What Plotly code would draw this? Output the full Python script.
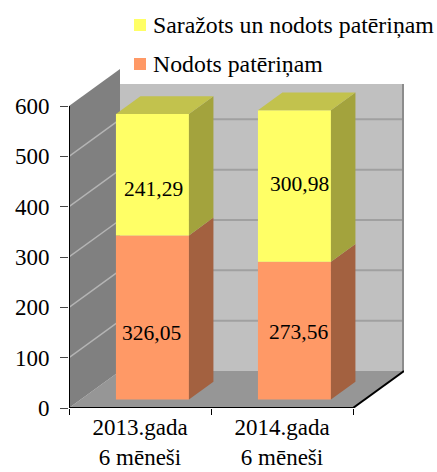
import plotly.graph_objects as go

categories = ["2013.gada<br>6 mēneši", "2014.gada<br>6 mēneši"]
delivered = [326.05, 273.56]
produced = [241.29, 300.98]
series_names = ["Nodots patēriņam", "Saražots un nodots patēriņam"]
y_ticks = [0, 100, 200, 300, 400, 500, 600]

W, H = 437, 472
FONT = "'Liberation Serif', 'Times New Roman', Times, serif"
# pixel frame of the plot area
L, R, T, B = 69, 404, 67, 408
PX_CAT = 142.0
PX_VAL = 302.0 / 600
DX, DY = 51 / PX_CAT, 37 / PX_VAL          # total depth in axis units
NCAT = len(categories)
YTOP = 600
BAR_W = 73 / PX_CAT
FRONT = 0.23     # bar front position along depth
BACK = 0.71      # bar back position along depth

def dep(x, y, d):
    return x + DX * d, y + DY * d

def poly(pts, color, layer="below", line=None):
    path = "M" + "L".join(f"{x},{y}" for x, y in pts) + "Z"
    return dict(type="path", path=path, fillcolor=color, layer=layer, xref="x", yref="y",
                line=line or dict(width=0))

shapes = []
wall_top = (B - 84) / PX_VAL - DY      # back wall stops below the legend band
# back wall, floor, side wall
shapes.append(poly([dep(0, 0, 1), dep(NCAT, 0, 1), dep(NCAT, wall_top, 1), dep(0, wall_top, 1)], "#C0C0C0"))
shapes.append(poly([(0, 0), (NCAT, 0), dep(NCAT, 0, 1), dep(0, 0, 1)], "#969696"))
shapes.append(poly([(0, 0), dep(0, 0, 1), dep(0, YTOP, 1), (0, YTOP)], "#808080"))
for v in y_ticks[1:-1]:
    x0, y0 = dep(0, v, 1)
    x1, y1 = dep(NCAT, v, 1)
    shapes.append(dict(type="line", x0=x0, y0=y0, x1=x1, y1=y1, xref="x", yref="y", layer="below",
                       line=dict(color="#A0A0A0", width=2)))
    shapes.append(dict(type="line", x0=0, y0=v, x1=x0, y1=y0, xref="x", yref="y", layer="below",
                       line=dict(color="#B4B4B4", width=1.5)))
xr, yr = dep(NCAT, 0, 1)
shapes.append(dict(type="line", x0=xr - 0.007, y0=yr, x1=xr - 0.007, y1=wall_top + DY, xref="x", yref="y", layer="below",
                   line=dict(color="#8C8C8C", width=2)))

fig = go.Figure()
centers = [i + 0.5 + DX * FRONT + 0.005 for i in range(NCAT)]
floor_front = DY * FRONT
series_colors = ["#FF9966", "#FFFF66"]
for name, vals, bases, col in [
    (series_names[0], delivered, [floor_front] * NCAT, series_colors[0]),
    (series_names[1], produced, [floor_front + d for d in delivered], series_colors[1]),
]:
    fig.add_trace(go.Bar(x=centers, y=vals, base=bases, width=BAR_W, name=name,
                         marker=dict(color=col, line=dict(width=0)), hoverinfo="skip"))

d_f = BACK - FRONT
for i, c in enumerate(centers):
    xl, xr2 = c - BAR_W / 2, c + BAR_W / 2
    y0 = floor_front
    y1 = y0 + delivered[i]
    y2 = y1 + produced[i]
    faces = [
        ([(xr2, y0), dep(xr2, y0, d_f), dep(xr2, y1, d_f), (xr2, y1)], "#A36140"),
        ([(xr2, y1), dep(xr2, y1, d_f), dep(xr2, y2, d_f), (xr2, y2)], "#A3A33D"),
        ([(xl, y2), (xr2, y2), dep(xr2, y2, d_f), dep(xl, y2, d_f)], "#C2C24D"),
    ]
    for pts, col in faces:
        shapes.append(poly(pts, col, layer="above"))

# axis lines
ax_line = dict(color="black", width=2)
shapes.append(dict(type="line", x0=0, y0=0, x1=0, y1=YTOP, xref="x", yref="y", layer="above", line=ax_line))
shapes.append(dict(type="line", x0=0, y0=0, x1=NCAT, y1=0, xref="x", yref="y", layer="above", line=ax_line))
x3, y3 = dep(NCAT, 0, 1)
shapes.append(dict(type="line", x0=NCAT, y0=0, x1=x3, y1=y3, xref="x", yref="y", layer="above", line=ax_line))

# value labels, moved by hand in the reference
label_shift = [[(-0.5, -16), (1.5, -14)], [(4.5, -1), (5.5, 2)]]
annotations = []
for i, c in enumerate(centers):
    y0 = floor_front
    for j, (v, b) in enumerate([(delivered[i], y0), (produced[i], y0 + delivered[i])]):
        sx, sy = label_shift[i][j]
        annotations.append(dict(x=c, y=b + v / 2, xref="x", yref="y", showarrow=False,
                                text=f"{v:.2f}".replace(".", ","), xshift=sx, yshift=sy,
                                font=dict(family=FONT, size=21.5, color="black")))

# legend, top entry first
def px(v): return (v - L) / (R - L)
def py(v): return (B - v) / (B - T)
for name, col, yc in [(series_names[1], series_colors[1], 25), (series_names[0], series_colors[0], 64)]:
    shapes.append(dict(type="rect", xref="paper", yref="paper", x0=px(134), x1=px(146), y0=py(yc - 6), y1=py(yc + 6),
                       fillcolor=col, line=dict(width=0), layer="above"))
    annotations.append(dict(x=px(151), y=py(yc), xref="paper", yref="paper", xanchor="left", yanchor="middle",
                            showarrow=False, text=name, font=dict(family=FONT, size=23.8, color="black")))

fig.update_layout(
    width=W, height=H, autosize=False,
    margin=dict(l=L, r=W - R, t=T, b=H - B, pad=0, autoexpand=False),
    paper_bgcolor="white", plot_bgcolor="rgba(0,0,0,0)",
    barmode="overlay", shapes=shapes, annotations=annotations,
    font=dict(family=FONT, size=23, color="black"),
    showlegend=False,
    xaxis=dict(range=[0, (R - L) / PX_CAT], tickvals=[i + 0.5 for i in range(NCAT)], ticktext=categories,
               ticks="", showgrid=False, zeroline=False, showline=False, tickfont=dict(family=FONT, size=23),
               automargin=False, tickangle=0, ticklabelstandoff=3,
               minor=dict(tickvals=list(range(NCAT + 1)), ticks="outside", ticklen=6, tickwidth=1, tickcolor="black",
                          showgrid=False)),
    yaxis=dict(range=[0, (B - T) / PX_VAL], tickvals=y_ticks, ticks="outside", ticklen=8, tickcolor="#444444", tickwidth=1,
               showgrid=False, zeroline=False, showline=False, automargin=False, ticklabelstandoff=6,
               tickfont=dict(family=FONT, size=23)),
)
fig.write_html("out.html", config={"displayModeBar": False},
               post_script="document.body.style.margin='0';")
